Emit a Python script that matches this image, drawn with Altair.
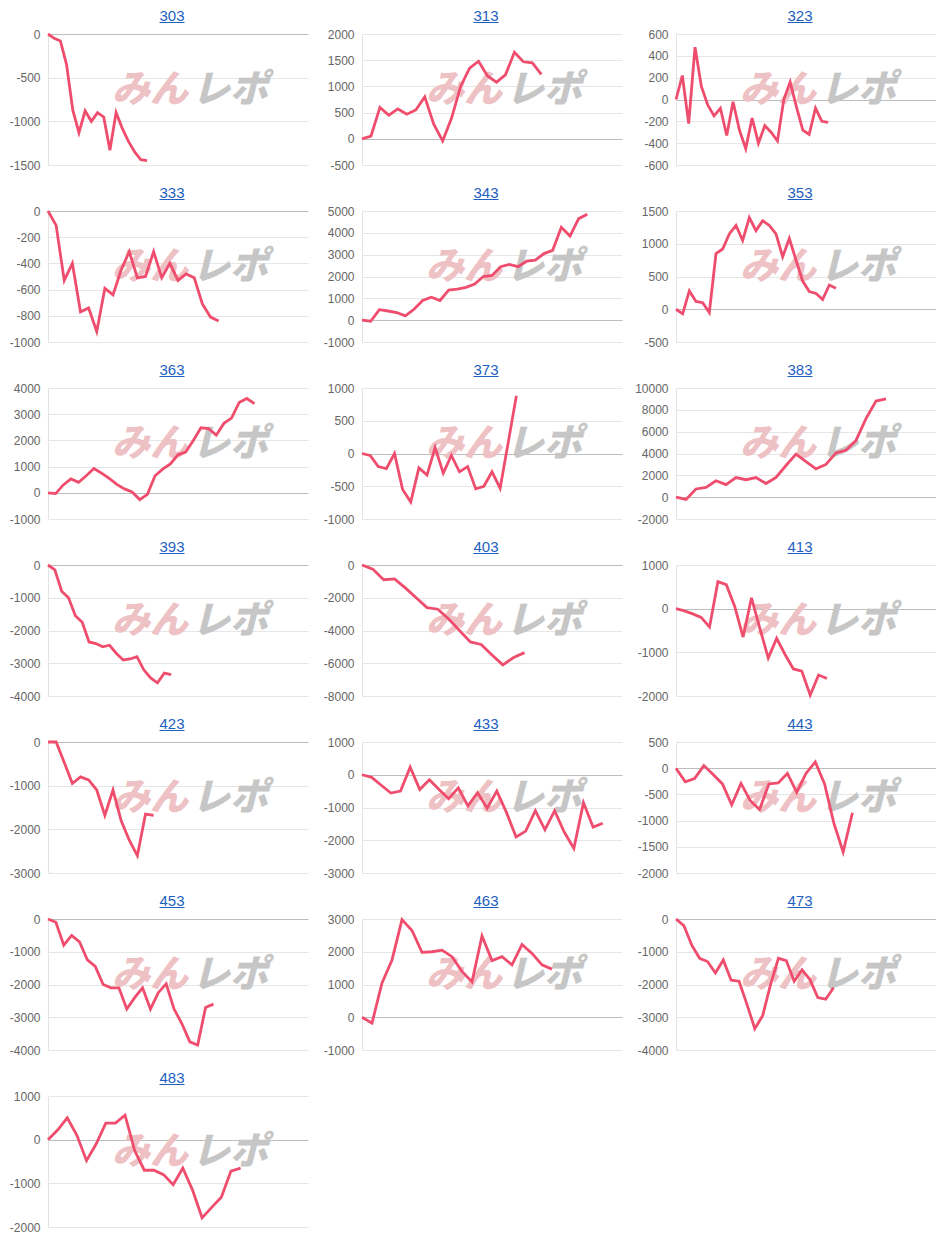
import altair as alt
import pandas as pd

# ---- data ----
names = ["303", "313", "323", "333", "343", "353", "363", "373", "383", "393",
         "403", "413", "423", "433", "443", "453", "463", "473", "483"]

v303 = [0, -50, -80, -350, -870, -1130, -880, -1000, -900, -950, -1330, -900, -1080, -1230, -1350, -1440, -1450]
v313 = [0, 50, 600, 450, 570, 470, 550, 800, 280, -40, 400, 1000, 1350, 1480, 1200, 1080, 1220, 1650, 1470, 1450, 1230]
v323 = [0, 220, -220, 480, 120, -50, -150, -80, -330, -20, -280, -450, -170, -400, -240, -300, -380, 0, 160, -70, -280, -320, -80, -200, -210]
v333 = [0, -110, -530, -400, -770, -740, -920, -590, -640, -450, -310, -510, -500, -310, -510, -400, -530, -480, -510, -710, -810, -840]
v343 = [0, -50, 480, 420, 350, 200, 500, 900, 1050, 900, 1380, 1420, 1500, 1650, 2000, 2050, 2450, 2550, 2450, 2700, 2750, 3050, 3200, 4250, 3850, 4650, 4850]
v353 = [0, -70, 280, 120, 100, -50, 850, 920, 1150, 1280, 1050, 1400, 1200, 1350, 1280, 1150, 800, 1080, 750, 430, 270, 240, 150, 370, 320]
v363 = [0, -30, 300, 530, 400, 650, 930, 750, 550, 320, 150, 30, -260, -60, 650, 900, 1100, 1450, 1550, 2000, 2480, 2450, 2200, 2650, 2850, 3450, 3600, 3400]
v373 = [0, -30, -200, -230, 0, -550, -740, -220, -330, 90, -300, -30, -280, -200, -540, -500, -280, -530, 170, 880]
v383 = [0, -200, 750, 900, 1500, 1150, 1800, 1600, 1800, 1250, 1800, 2900, 3950, 3250, 2600, 3000, 4050, 4300, 5200, 7200, 8800, 9000]
v393 = [0, -150, -800, -1000, -1550, -1750, -2350, -2400, -2500, -2450, -2700, -2900, -2870, -2800, -3200, -3450, -3600, -3300, -3350]
v403 = [0, -250, -900, -850, -1400, -2000, -2600, -2700, -3300, -4000, -4700, -4850, -5500, -6100, -5650, -5350]
v413 = [0, -50, -120, -200, -420, 620, 550, 50, -650, 250, -450, -1130, -680, -1050, -1380, -1430, -1980, -1520, -1600]
v423 = [0, 0, -470, -950, -800, -870, -1100, -1680, -1100, -1800, -2250, -2600, -1650, -1680]
v433 = [0, -80, -320, -560, -500, 230, -450, -150, -450, -730, -400, -950, -550, -1020, -500, -1150, -1900, -1720, -1100, -1680, -1100, -1750, -2250, -850, -1600, -1480]
v443 = [0, -260, -200, 50, -120, -300, -700, -290, -620, -790, -300, -280, -100, -460, -100, 120, -300, -1050, -1600, -850]
v453 = [0, -100, -800, -500, -700, -1250, -1450, -2000, -2100, -2100, -2750, -2400, -2100, -2750, -2250, -1980, -2750, -3200, -3750, -3850, -2700, -2600]
v463 = [0, -180, 1050, 1750, 2980, 2650, 1980, 2000, 2050, 1850, 1400, 1080, 2480, 1730, 1850, 1600, 2220, 1950, 1600, 1470]
v473 = [0, -200, -800, -1200, -1300, -1650, -1250, -1870, -1900, -2600, -3350, -2950, -2000, -1200, -1270, -1900, -1550, -1850, -2400, -2450, -2100]
v483 = [0, 220, 500, 100, -480, -100, 380, 380, 560, -250, -700, -700, -800, -1030, -650, -1150, -1790, -1550, -1320, -720, -650]

series = [v303, v313, v323, v333, v343, v353, v363, v373, v383, v393,
          v403, v413, v423, v433, v443, v453, v463, v473, v483]

# number of (hidden) x-axis slots in each panel
x_slots = [42, 29, 41, 32, 30, 39, 34, 32, 26, 38, 24, 31, 32, 27, 28, 33, 26, 33, 27]

# y-axis range and tick step for each panel
y_min = [-1500, -500, -600, -1000, -1000, -500, -1000, -1000, -2000, -4000,
         -8000, -2000, -3000, -3000, -2000, -4000, -1000, -4000, -2000]
y_max = [0, 2000, 600, 0, 5000, 1500, 4000, 1000, 10000, 0,
         0, 1000, 0, 1000, 500, 0, 3000, 0, 1000]
y_step = [500, 500, 200, 200, 1000, 500, 1000, 500, 2000, 1000,
          2000, 1000, 1000, 1000, 500, 1000, 1000, 1000, 1000]

# ---- styling ----
W, H = 260, 131
LINE = "#ef4d6d"
BLUE = "#1f5fbf"
FONT = "Liberation Sans"
JP = "Noto Sans CJK JP"
WM_X, WM_Y = 141, 57
TITLE_X = 124

one = alt.Data(values=[{}])

panels = []
for name, vals, slots, lo, hi, st in zip(names, series, x_slots, y_min, y_max, y_step):
    df = pd.DataFrame({"x": list(range(len(vals))), "y": vals})
    ticks = list(range(lo, hi + st, st))

    wm1 = alt.Chart(one).mark_text(
        text="みん", font=JP, fontSize=38, fontWeight=900, fontStyle="italic",
        color="#eec2c5", align="right", baseline="middle"
    ).encode(x=alt.value(WM_X - 1), y=alt.value(WM_Y))
    wm2 = alt.Chart(one).mark_text(
        text="レポ", font=JP, fontSize=38, fontWeight=900, fontStyle="italic",
        color="#c6c6c6", align="left", baseline="middle"
    ).encode(x=alt.value(WM_X + 3), y=alt.value(WM_Y))

    line = alt.Chart(df).mark_line(color=LINE, strokeWidth=2.8).encode(
        x=alt.X("x:Q", scale=alt.Scale(domain=[0, slots], nice=False, zero=False), axis=None),
        y=alt.Y("y:Q",
                scale=alt.Scale(domain=[lo, hi], nice=False, zero=False),
                axis=alt.Axis(values=ticks, title=None, labelExpr="'' + datum.value")),
    )

    title = alt.Chart(one).mark_text(
        text=name, font=FONT, fontSize=15, color=BLUE, align="center", baseline="alphabetic"
    ).encode(x=alt.value(TITLE_X), y=alt.value(-13))
    underline = alt.Chart(one).mark_rule(color=BLUE, strokeWidth=1).encode(
        x=alt.value(TITLE_X - 12.5), x2=alt.value(TITLE_X + 12.5), y=alt.value(-11.5)
    )

    panels.append(alt.layer(wm1, wm2, line, title, underline).properties(width=W, height=H))

chart = alt.concat(
    *panels, columns=3, bounds="flush", spacing={"row": 46, "column": 54}
).properties(
    padding={"left": 1, "top": 1, "right": 0, "bottom": 0}
).configure_view(
    strokeWidth=0
).configure_axis(
    labelFont=FONT,
    labelFontSize=12,
    labelColor="#666666",
    ticks=False,
    labelPadding=8,
    domainColor="#e3e3e3",
    domainWidth=1,
    grid=True,
    gridColor={"condition": {"test": "datum.value === 0", "value": "#bdbdbd"}, "value": "#e6e6e6"},
    gridWidth=1,
)

chart.save("out.html", embed_options={"renderer": "svg", "actions": False})
